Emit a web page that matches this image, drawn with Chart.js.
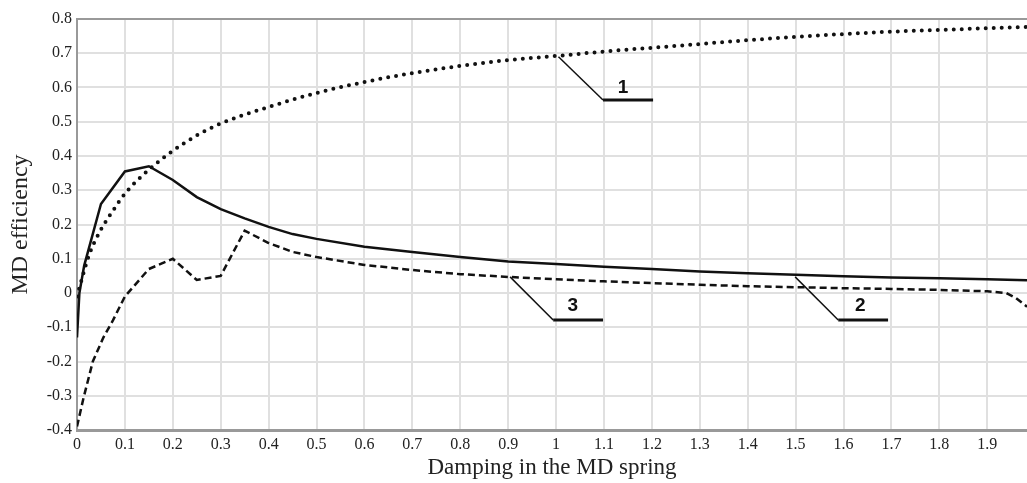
<!DOCTYPE html>
<html>
<head>
<meta charset="utf-8">
<script src="https://cdn.jsdelivr.net/npm/chart.js@4.4.1/dist/chart.umd.min.js"></script>
<style>
  html, body { margin: 0; padding: 0; background: #fff; }
  #wrap { width: 1027px; height: 483px; position: relative; }
</style>
</head>
<body>
<div id="wrap"><canvas id="mdchart"></canvas></div>
<script>
// curve 1 (dotted)
const x1 = [0, 0.025, 0.05, 0.075, 0.1, 0.15, 0.2, 0.25, 0.3, 0.4, 0.5, 0.6, 0.7, 0.8, 0.9, 1.0, 1.1, 1.2, 1.3, 1.4, 1.5, 1.6, 1.7, 1.8, 1.9, 1.983];
const y1 = [-0.01, 0.11, 0.185, 0.24, 0.29, 0.36, 0.415, 0.46, 0.495, 0.543, 0.584, 0.616, 0.642, 0.663, 0.68, 0.692, 0.705, 0.716, 0.727, 0.738, 0.748, 0.756, 0.763, 0.768, 0.773, 0.777];

// curve 2 (solid)
const x2 = [0, 0.005, 0.015, 0.05, 0.1, 0.15, 0.2, 0.25, 0.3, 0.35, 0.4, 0.45, 0.5, 0.6, 0.7, 0.8, 0.9, 1.0, 1.1, 1.2, 1.3, 1.4, 1.5, 1.6, 1.7, 1.8, 1.9, 1.983];
const y2 = [-0.13, 0.0, 0.08, 0.26, 0.355, 0.37, 0.33, 0.28, 0.245, 0.218, 0.193, 0.172, 0.158, 0.135, 0.12, 0.105, 0.092, 0.085, 0.077, 0.07, 0.063, 0.058, 0.053, 0.049, 0.045, 0.043, 0.04, 0.037];

// curve 3 (dashed)
const x3 = [0, 0.013, 0.033, 0.055, 0.075, 0.1, 0.15, 0.2, 0.25, 0.3, 0.35, 0.4, 0.45, 0.5, 0.6, 0.7, 0.8, 0.9, 1.0, 1.1, 1.2, 1.3, 1.4, 1.5, 1.6, 1.7, 1.8, 1.9, 1.94, 1.96, 1.983];
const y3 = [-0.39, -0.31, -0.2, -0.13, -0.08, -0.01, 0.07, 0.1, 0.038, 0.05, 0.182, 0.146, 0.12, 0.105, 0.082, 0.067, 0.055, 0.047, 0.04, 0.034, 0.029, 0.024, 0.02, 0.017, 0.014, 0.012, 0.009, 0.005, 0.0, -0.015, -0.04];

// numbered callouts: text, start on curve, knee, end of shelf, text position (data units)
const calloutText = ['1', '3', '2'];
const calloutStart = [[1.005, 0.69], [0.904, 0.047], [1.499, 0.047]];
const calloutKnee = [[1.098, 0.5635], [0.994, -0.079], [1.589, -0.079]];
const calloutEnd = [[1.2025, 0.5635], [1.098, -0.079], [1.693, -0.079]];
const calloutLabel = [[1.14, 0.598], [1.035, -0.036], [1.635, -0.036]];

const xMin = 0, xMax = 1.983;
const yMin = -0.4, yMax = 0.8;

const pts = (xs, ys) => xs.map((x, i) => ({x: x, y: ys[i]}));
const serif = '"Liberation Serif", "Times New Roman", serif';

const callouts = {
    id: 'callouts',
    afterDatasetsDraw(chart) {
        const ctx = chart.ctx;
        const sx = chart.scales.x, sy = chart.scales.y;
        const px = p => [sx.getPixelForValue(p[0]), sy.getPixelForValue(p[1])];
        ctx.save();
        ctx.strokeStyle = '#111';
        ctx.fillStyle = '#111';
        calloutText.forEach((t, i) => {
            const a = px(calloutStart[i]), b = px(calloutKnee[i]), c = px(calloutEnd[i]);
            ctx.lineWidth = 1.5;
            ctx.beginPath();
            ctx.moveTo(a[0], a[1]);
            ctx.lineTo(b[0], b[1]);
            ctx.stroke();
            ctx.lineWidth = 3;
            ctx.beginPath();
            ctx.moveTo(b[0], b[1]);
            ctx.lineTo(c[0], c[1]);
            ctx.stroke();
            const l = px(calloutLabel[i]);
            ctx.font = 'bold 19px "Liberation Sans", Arial, sans-serif';
            ctx.textAlign = 'center';
            ctx.textBaseline = 'middle';
            ctx.fillText(t, l[0], l[1]);
        });
        ctx.restore();
    }
};

const fmt = v => String(Number(v.toFixed(2)));

new Chart(document.getElementById('mdchart'), {
    type: 'line',
    data: {
        datasets: [{
            label: '1',
            data: pts(x1, y1),
            borderColor: '#111',
            borderWidth: 4,
            borderDash: [0, 8],
            borderCapStyle: 'round',
            cubicInterpolationMode: 'monotone',
            pointRadius: 0,
            fill: false
        },
        {
            label: '2',
            data: pts(x2, y2),
            borderColor: '#111',
            borderWidth: 2.5,
            tension: 0,
            pointRadius: 0,
            fill: false
        },
        {
            label: '3',
            data: pts(x3, y3),
            borderColor: '#111',
            borderWidth: 2.5,
            borderDash: [7, 4],
            tension: 0,
            pointRadius: 0,
            fill: false
        }]
    },
    options: {
        responsive: true,
        maintainAspectRatio: false,
        animation: false,
        layout: { padding: { top: 19, right: 0, bottom: 0, left: 0 } },
        plugins: {
            legend: { display: false },
            tooltip: { enabled: false }
        },
        scales: {
            x: {
                type: 'linear',
                min: xMin,
                max: xMax,
                afterFit: s => { s.height = 53; },
                border: { display: true, color: '#999', width: 3 },
                grid: { color: '#e0e0e0', lineWidth: 2, drawTicks: false },
                ticks: {
                    stepSize: 0.1,
                    includeBounds: false,
                    autoSkip: false,
                    maxRotation: 0,
                    padding: 5,
                    color: '#222',
                    font: { family: serif, size: 16 },
                    callback: fmt
                },
                title: {
                    display: true,
                    text: 'Damping in the MD spring',
                    color: '#222',
                    font: { family: serif, size: 23 },
                    padding: { top: 0, bottom: 1 }
                }
            },
            y: {
                min: yMin,
                max: yMax,
                afterFit: s => { s.width = 77; },
                border: { display: true, color: '#999', width: 2 },
                grid: {
                    color: c => Math.abs(c.tick.value - yMax) < 1e-6 ? '#999' : '#e0e0e0',
                    lineWidth: 2,
                    drawTicks: false
                },
                ticks: {
                    stepSize: 0.1,
                    padding: 5,
                    color: '#222',
                    font: { family: serif, size: 16 },
                    callback: fmt
                },
                title: {
                    display: true,
                    text: 'MD efficiency',
                    color: '#222',
                    font: { family: serif, size: 24 },
                    padding: { top: 6, bottom: 0 }
                }
            }
        }
    },
    plugins: [callouts]
});
</script>
</body>
</html>
